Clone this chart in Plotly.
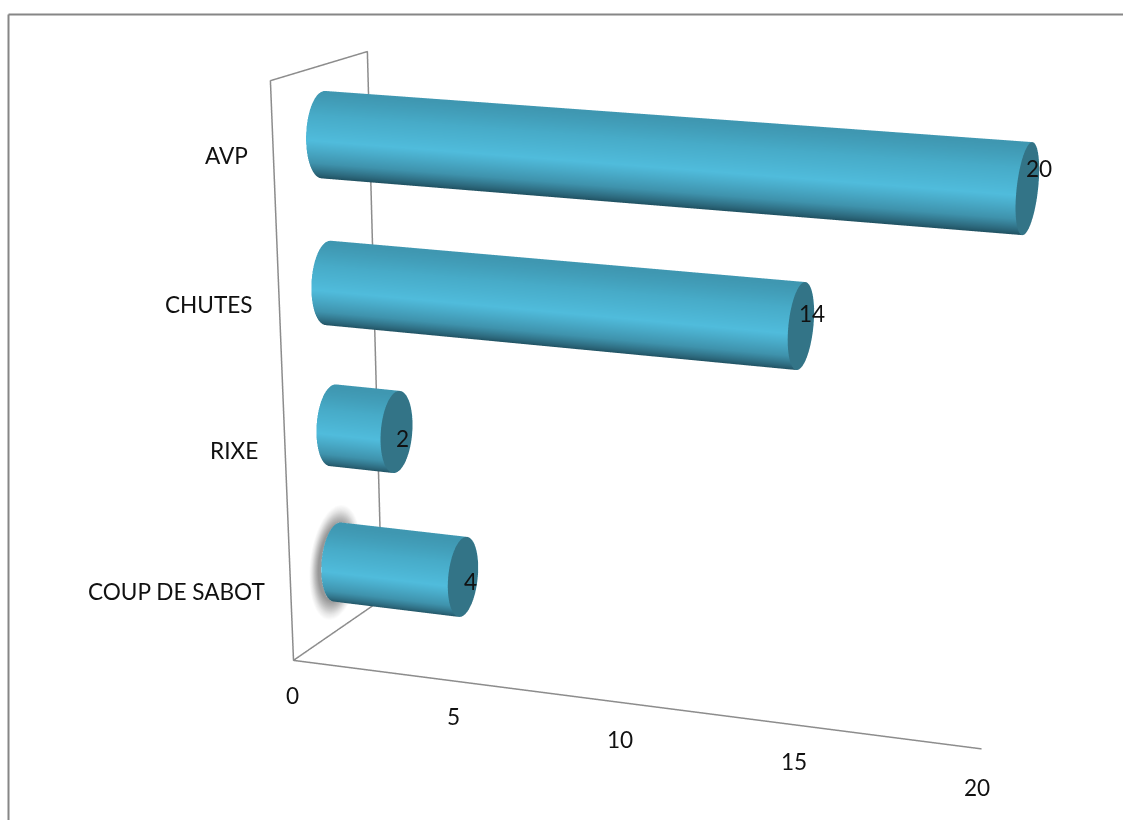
import numpy as np
import plotly.graph_objects as go

categories = ["COUP DE SABOT", "RIXE", "CHUTES", "AVP"]
values = [4, 2, 14, 20]
value_ticks = [0, 5, 10, 15, 20]

# Label offsets in pixels from their anchor points
tick_shift = [(-1, -35), (1, -36), (3, -38), (7, -38), (15, -41)]
category_shift = [(-24, 1), (-25, 3), (-24, 3), (-23, 0)]
value_shift = [(7, -4), (6, -6), (11, 13), (12, 20)]

# The perspective in plotly's scene has a fixed field of view, so a long focal
# length needs a tall canvas; the page itself is clipped to the visible height.
PAGE_W, PAGE_H, CANVAS_H = 1123, 820, 2930
EYE = (1.6663, -4.6493, 1.2242)
CENTER = (1.6567, -4.6250, 1.2086)
UP = (0.0058, 0, 1)
ASPECT = dict(x=1.05, y=0.3130, z=0.7947)

BAR_Y, BAR_RY, BAR_RZ = 0.5107, 0.1804, 0.285
TEAL_SCALE = [[0, "#1c4a59"], [.1, "#2c687c"], [.25, "#3f93ad"], [.52, "#50bcdc"],
              [.8, "#47abc8"], [1, "#3f97b1"]]
CAP_COLOR = "#337487"
FLAT = dict(ambient=1, diffuse=0, specular=0, fresnel=0)

fig = go.Figure()
theta = np.linspace(0, 2 * np.pi, 73)

# Cylinders: shaded side plus a flat end cap
for i, v in enumerate(values):
    zc = i + 0.5
    X, T = np.meshgrid([0, v], theta)
    fig.add_surface(x=X, y=BAR_Y + BAR_RY * np.cos(T), z=zc + BAR_RZ * np.sin(T),
                    surfacecolor=(np.sin(T) + 1) / 2, cmin=0, cmax=1, colorscale=TEAL_SCALE,
                    showscale=False, lighting=FLAT, hoverinfo="skip")
    R, T2 = np.meshgrid([0, 1], theta)
    fig.add_surface(x=np.full(R.shape, v), y=BAR_Y + BAR_RY * R * np.cos(T2), z=zc + BAR_RZ * R * np.sin(T2),
                    surfacecolor=np.zeros(R.shape), cmin=0, cmax=1,
                    colorscale=[[0, CAP_COLOR], [1, CAP_COLOR]],
                    showscale=False, lighting=FLAT, hoverinfo="skip")

# Side wall outline and value axis
fig.add_scatter3d(x=[20.55, 0, 0, 0, 0, 0], y=[0, 0, 0, 1, 1, 0], z=[0, 0, 3.98, 3.93, 0, 0],
                  mode="lines", line=dict(color="#8c8c8c", width=3), hoverinfo="skip")

# Soft halo behind the base of the lowest bar
RR, TT = np.meshgrid(np.linspace(0, 1.45, 29), theta)
fig.add_surface(x=np.zeros(RR.shape), y=BAR_Y - 0.02 + 1.12 * BAR_RY * RR * np.cos(TT),
                z=0.505 + BAR_RZ * RR * np.sin(TT), surfacecolor=RR / 1.45, cmin=0, cmax=1,
                colorscale=[[0, "#7a7a7a"], [1, "#7a7a7a"]],
                opacityscale=[[0, .78], [.66, .78], [.78, .5], [.9, .18], [1, 0]],
                showscale=False, lighting=FLAT, hoverinfo="skip")

FONT = dict(family="Lato", size=22.6, color="#111111")
labels = []
for t, (a, b) in zip(value_ticks, tick_shift):
    labels.append(dict(x=t, y=0, z=0, text=str(t), showarrow=False, xshift=a, yshift=b, font=FONT))
for i, (c, (a, b)) in enumerate(zip(categories, category_shift)):
    labels.append(dict(x=0, y=0, z=i + .5, text=c, showarrow=False, xanchor="right", xshift=a, yshift=b, font=FONT))
for i, (v, (a, b)) in enumerate(zip(values, value_shift)):
    labels.append(dict(x=v, y=BAR_Y, z=i + .5, text=str(v), showarrow=False, xshift=a, yshift=b, font=FONT))


def paper_y(px):
    return 1 - px / CANVAS_H


hidden = dict(visible=False)
border = dict(color="#868686", width=2)
fig.update_layout(
    width=PAGE_W, height=CANVAS_H, margin=dict(l=0, r=0, t=0, b=0),
    paper_bgcolor="white", showlegend=False,
    scene=dict(
        domain=dict(x=[0, 1], y=[0, 1]), aspectmode="manual", aspectratio=ASPECT,
        xaxis=dict(range=[0, 21], **hidden), yaxis=dict(range=[0, 1], **hidden), zaxis=dict(range=[0, 4], **hidden),
        camera=dict(eye=dict(zip("xyz", EYE)), center=dict(zip("xyz", CENTER)), up=dict(zip("xyz", UP)),
                    projection=dict(type="perspective")),
        annotations=labels),
    shapes=[
        dict(type="line", xref="paper", yref="paper", x0=8.5 / PAGE_W, x1=1,
             y0=paper_y(14.5), y1=paper_y(14.5), line=border),
        dict(type="line", xref="paper", yref="paper", x0=8.5 / PAGE_W, x1=8.5 / PAGE_W,
             y0=paper_y(PAGE_H), y1=paper_y(14.5), line=border)])

clip = f"overflow:hidden;height:{PAGE_H}px"
fig.write_html("out.html", post_script=(
    f"document.documentElement.style.cssText='{clip}';"
    f"document.body.style.cssText='{clip};margin:0';"))
